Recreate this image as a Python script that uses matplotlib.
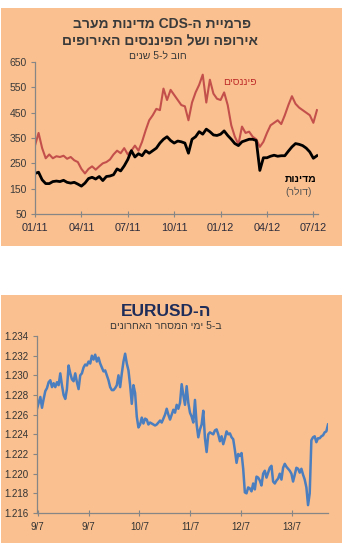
import re
import numpy as np
import matplotlib
matplotlib.use("Agg")
import matplotlib.pyplot as plt
from matplotlib.patches import Rectangle

plt.rcParams['font.family'] = ['Liberation Sans', 'DejaVu Sans']

# ---------------- data: top chart (weekly, from Jan 2011) ----------------
top_tick_labels = ['01/11', '04/11', '07/11', '10/11', '01/12', '04/12', '07/12']
top_yticks = [50, 150, 250, 350, 450, 550, 650]

financials = [320, 370, 310, 270, 285, 270, 278, 275, 280, 268, 275, 262, 255, 228, 210,
              228, 238, 225, 238, 250, 255, 265, 285, 300, 290, 310, 285, 300, 320, 300,
              335, 380, 420, 440, 465, 460, 545, 500, 540, 520, 500, 480, 475, 420, 490,
              530, 560, 600, 490, 580, 525, 505, 500, 530, 480, 400, 355, 325, 395, 370,
              375, 355, 345, 315, 335, 370, 400, 410, 420, 405, 440, 480, 515, 485, 470,
              460, 450, 440, 410, 460]
sovereigns = [210, 215, 185, 170, 170, 178, 180, 178, 183, 175, 172, 175, 168, 160, 172,
              190, 195, 188, 198, 182, 198, 200, 205, 228, 220, 240, 265, 300, 275, 288,
              280, 300, 290, 300, 310, 330, 345, 355, 340, 330, 338, 335, 330, 290, 345,
              355, 375, 365, 385, 375, 362, 360, 365, 378, 360, 345, 328, 320, 335, 340,
              345, 345, 340, 222, 272, 272, 278, 282, 278, 280, 280, 298, 315, 328, 325,
              320, 310, 295, 270, 280]

# ---------------- data: bottom chart (EURUSD, last 5 trading days) ----------------
bottom_tick_labels = ['9/7', '9/7', '10/7', '11/7', '12/7', '13/7']
bottom_yticks = [1.216, 1.218, 1.220, 1.222, 1.224, 1.226, 1.228, 1.230, 1.232, 1.234]
eurusd = [1.2266, 1.2272, 1.2278, 1.2267, 1.2276, 1.2284, 1.2287, 1.2293, 1.2295, 1.2288,
          1.2292, 1.2288, 1.2293, 1.2290, 1.2302, 1.2290, 1.2280, 1.2276, 1.2286, 1.2310,
          1.2302, 1.2296, 1.2294, 1.2302, 1.2293, 1.2286, 1.2300, 1.2302, 1.2308, 1.2311,
          1.2310, 1.2314, 1.2312, 1.2320, 1.2316, 1.2321, 1.2314, 1.2318, 1.2312, 1.2308,
          1.2304, 1.2305, 1.2300, 1.2295, 1.2288, 1.2285, 1.2285, 1.2287, 1.2290, 1.2300,
          1.2288, 1.2302, 1.2314, 1.2322, 1.2312, 1.2305, 1.2290, 1.2271, 1.2290, 1.2282,
          1.2258, 1.2247, 1.2250, 1.2257, 1.2251, 1.2256, 1.2255, 1.2250, 1.2252, 1.2251,
          1.2250, 1.2249, 1.2250, 1.2252, 1.2254, 1.2252, 1.2256, 1.2260, 1.2266, 1.2260,
          1.2255, 1.2260, 1.2265, 1.2262, 1.2270, 1.2266, 1.2272, 1.2291, 1.2280, 1.2270,
          1.2289, 1.2272, 1.2262, 1.2258, 1.2252, 1.2275, 1.2250, 1.2237, 1.2245, 1.2250,
          1.2264, 1.2236, 1.2222, 1.2240, 1.2242, 1.2241, 1.2240, 1.2244, 1.2245, 1.2240,
          1.2233, 1.2238, 1.2230, 1.2236, 1.2243, 1.2240, 1.2241, 1.2237, 1.2235, 1.2224,
          1.2211, 1.2220, 1.2218, 1.2221, 1.2205, 1.2181, 1.2180, 1.2186, 1.2185, 1.2182,
          1.2190, 1.2184, 1.2197, 1.2196, 1.2193, 1.2188, 1.2200, 1.2203, 1.2196, 1.2201,
          1.2206, 1.2208, 1.2192, 1.2190, 1.2193, 1.2195, 1.2200, 1.2194, 1.2206, 1.2210,
          1.2207, 1.2205, 1.2203, 1.2200, 1.2192, 1.2199, 1.2206, 1.2205, 1.2201, 1.2205,
          1.2199, 1.2194, 1.2186, 1.2168, 1.2180, 1.2234, 1.2237, 1.2238, 1.2232, 1.2236,
          1.2236, 1.2238, 1.2239, 1.2242, 1.2243, 1.2250]


def visual(s):
    """Simple logical->visual reordering for right-to-left Hebrew text."""
    r = s[::-1]
    r = re.sub(r'[A-Za-z0-9.]+', lambda m: m.group(0)[::-1], r)
    return r.translate(str.maketrans('()', ')('))


# ---------------- styling ----------------
W, H = 347, 552
fig = plt.figure(figsize=(W / 100, H / 100), dpi=100)
fig.patch.set_facecolor('white')
ORANGE = '#FAC090'
AXC = '#868686'
TXT = '#3a3a3a'


def fx(px):
    return px / W


def fy(py):
    return 1 - py / H


fig.patches.append(Rectangle((fx(1), fy(246)), fx(341), 238 / H, transform=fig.transFigure,
                             facecolor=ORANGE, edgecolor='none', zorder=-10))
fig.patches.append(Rectangle((fx(1), fy(543)), fx(341), 248 / H, transform=fig.transFigure,
                             facecolor=ORANGE, edgecolor='none', zorder=-10))


def style_axes(ax):
    ax.set_facecolor('none')
    for s in ['top', 'right']:
        ax.spines[s].set_visible(False)
    for s in ['left', 'bottom']:
        ax.spines[s].set_color(AXC)
        ax.spines[s].set_linewidth(0.9)
    ax.tick_params(axis='y', direction='out', length=3, width=0.8, color=AXC,
                   labelsize=7.5, labelcolor=TXT, pad=3)
    ax.tick_params(axis='x', direction='inout', length=5, width=0.8, color=AXC,
                   labelsize=7.8, labelcolor='#2b2b3b', pad=4)


# ---------------- top chart ----------------
ax1 = fig.add_axes([fx(35), fy(214), fx(318 - 35), (214 - 62) / H])
style_axes(ax1)
months = np.arange(len(financials)) * 12 / 52
ax1.plot(months, financials, color='#C4504C', lw=1.5, solid_joinstyle='round')
ax1.plot(months, sovereigns, color='black', lw=2.0, solid_joinstyle='round')
ax1.set_xlim(0, 18.3)
ax1.set_ylim(50, 650)
ax1.set_yticks(top_yticks)
ax1.set_xticks(np.arange(len(top_tick_labels)) * 3)
ax1.set_xticklabels(top_tick_labels)

fig.text(fx(162), fy(24), visual('פרמיית ה-CDS מדינות מערב'), ha='center', va='center',
         fontsize=10, fontweight='bold', color=TXT)
fig.text(fx(160), fy(41), visual('אירופה ושל הפיננסים האירופים'), ha='center', va='center',
         fontsize=10, fontweight='bold', color=TXT)
fig.text(fx(158), fy(56), visual('חוב ל-5 שנים'), ha='center', va='center',
         fontsize=7.5, color=TXT)
fig.text(fx(240), fy(82), visual('פיננסים'), ha='center', va='center',
         fontsize=7.5, color='#C0302C')
fig.text(fx(301), fy(179), visual('מדינות'), ha='center', va='center',
         fontsize=7.5, fontweight='bold', color='black')
fig.text(fx(299), fy(192), visual('(דולר)'), ha='center', va='center',
         fontsize=7.5, color='#555555')

# ---------------- bottom chart ----------------
ax2 = fig.add_axes([fx(37), fy(513), fx(328 - 37), (513 - 336) / H])
style_axes(ax2)
ax2.tick_params(axis='y', labelsize=7, labelcolor='#333333')
ax2.tick_params(axis='x', labelsize=7, labelcolor='#333333')
days = (np.arange(len(eurusd)) * 5 - 2) / 153.0
ax2.plot(days, eurusd, color='#4A7EBF', lw=1.8, solid_joinstyle='round')
ax2.set_xlim(days[0], days[-1])
ax2.set_ylim(1.216, 1.234)
ax2.set_yticks(bottom_yticks)
ax2.set_yticklabels([f'{v:.3f}' for v in bottom_yticks])
ax2.set_xticks(np.arange(len(bottom_tick_labels)))
ax2.set_xticklabels(bottom_tick_labels)

fig.text(fx(166), fy(312), visual('ה-EURUSD'), ha='center', va='center',
         fontsize=12.5, fontweight='bold', color='#1F2D5A')
fig.text(fx(166), fy(326), visual('ב-5 ימי המסחר האחרונים'), ha='center', va='center',
         fontsize=7.5, color=TXT)

fig.savefig('out.png', dpi=100, facecolor='white')
